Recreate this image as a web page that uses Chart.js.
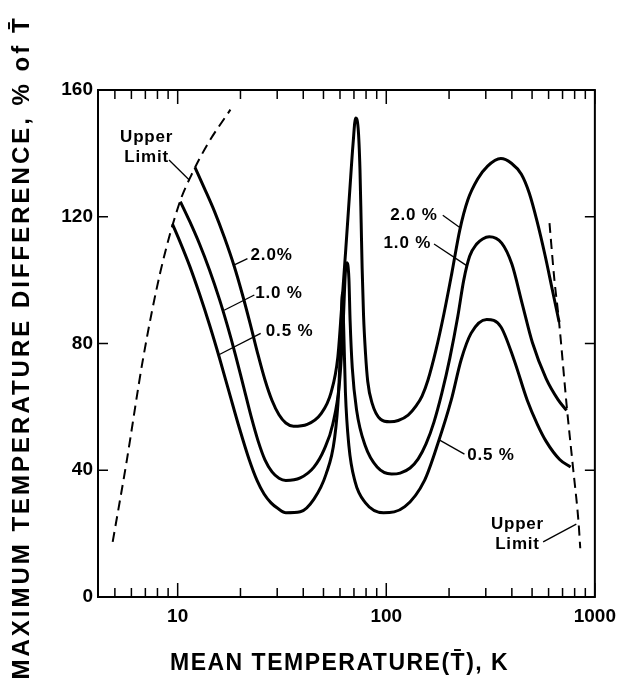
<!DOCTYPE html>
<html>
<head>
<meta charset="utf-8">
<script src="https://cdn.jsdelivr.net/npm/chart.js@4.4.1/dist/chart.umd.min.js"></script>
<style>
  html, body { margin: 0; padding: 0; background: #fff; }
</style>
</head>
<body>
<canvas id="chart" width="624" height="683"></canvas>
<script>
// 2.0 % curve
const tempHi = [12.1, 13.45, 15.01, 16.74, 18.68, 20.39, 22.27, 24.31, 26.24, 28.34, 30.6, 33.0, 35.9, 41.8, 48.6, 54.4, 58.6, 61.2, 64, 66.8, 69.3, 71.3, 73.3, 74.8, 75.8, 76.6, 77.8, 79.5, 81.5, 85.5, 93.9, 104.1, 114.1, 127.3, 139.0, 148.4, 158.5, 173.0, 188.9, 206.2, 225.1, 245.7, 274.2, 306.0, 354.0, 398.1, 444.3, 485.0, 529.5, 578.0, 624.1, 674.0];
const diffHi = [135.6, 128.9, 121.7, 113.5, 104.3, 95.7, 86.2, 76.3, 68.4, 62.0, 57.5, 54.9, 53.9, 54.5, 57.8, 64.6, 75.8, 92, 110, 128, 143, 151.2, 148, 135, 118, 104, 89, 77, 68, 61.2, 56.1, 55.3, 55.7, 57.4, 60.3, 63.4, 68.5, 77.9, 89.3, 102.2, 115.8, 125.2, 131.9, 136.0, 138.4, 136.9, 133.4, 127.4, 118.3, 107.6, 97.2, 86.8];

// 1.0 % curve
const tempMid = [10.3, 11.41, 12.73, 14.21, 15.85, 17.3, 18.89, 20.62, 22.51, 24.31, 26.24, 28.34, 30.6, 33.0, 38.7, 45.0, 50.4, 55.4, 59.7, 62.0, 63.7, 64.7, 66.2, 67.1, 68.7, 72.1, 79.3, 90.4, 106.0, 116.6, 130.1, 142.0, 155.1, 169.3, 184.8, 201.7, 220.3, 235.2, 251.2, 271.2, 289.7, 311.8, 357.6, 400.4, 448.2, 501.7, 583.2, 665.9, 731.6];
const diffMid = [124.8, 118.6, 111.4, 103.2, 94.0, 85.7, 76.6, 66.8, 56.9, 49.2, 43.2, 39.5, 37.5, 36.8, 37.6, 41.0, 46.6, 54.5, 67.9, 84.8, 102.7, 105.5, 100.5, 87.0, 72.4, 58.9, 47.7, 41.0, 38.8, 39.1, 40.7, 43.5, 48.3, 55.2, 64.4, 75.4, 88.6, 100.0, 107.6, 111.4, 113.0, 113.7, 111.7, 105.0, 92.6, 80.3, 69.0, 62.3, 58.9];

// 0.5 % curve
const tempLo = [9.44, 10.22, 11.41, 12.73, 14.21, 15.85, 17.69, 19.74, 22.03, 24.04, 25.96, 28.03, 30.27, 33.0, 38.7, 45.0, 51.4, 56.5, 59.1, 60.9, 61.6, 62.5, 63.7, 66.2, 70.8, 79.3, 97, 122.7, 152.8, 176.9, 204.8, 228.4, 254.8, 303, 354, 410, 474, 530, 583, 678, 765];
const diffLo = [117.7, 112.4, 104.5, 95.6, 85.9, 75.5, 64.4, 53.4, 43.3, 36.7, 32.5, 29.7, 27.9, 26.6, 26.9, 30.9, 38.7, 50.0, 64.6, 87.0, 96.0, 84.8, 64.6, 47.7, 36.5, 29.8, 26.6, 28.5, 36.9, 48.5, 62.1, 74.8, 83.2, 87.6, 85.3, 74.8, 62.1, 54.5, 49.2, 43.4, 41.0];

// upper limit (dashed)
const limitLowT = [4.88, 5.67, 6.85, 8.27, 10.17, 11.6, 14.0, 17.9];
const limitLowD = [17.4, 42.1, 75.8, 102.7, 124.1, 133.0, 143.2, 153.8];
const limitHighT = [606, 640, 671, 736, 785, 836, 851];
const limitHighD = [118, 100, 87.9, 59, 41.1, 23.2, 15.4];

// axes
const xTickVals = [5, 6, 7, 8, 9, 10, 20, 30, 40, 50, 60, 70, 80, 90, 100, 200, 300, 400, 500, 600, 700, 800, 900, 1000];
const xTickLabels = [10, 100, 1000];
const yTickVals = [0, 40, 80, 120, 160];

const xTitle = 'MEAN TEMPERATURE(T\u0304), K';
const yTitle = 'MAXIMUM TEMPERATURE DIFFERENCE, % of T\u0304';

// curve labels: text centre, leader line from -> to (data units)
const notes = [
  { text: ['Upper', 'Limit'], at: [7.1, 142], from: [9.09, 137.9], to: [11.4, 131.5] },
  { text: ['2.0%'], at: [28.2, 107.9], from: [21.6, 106.8], to: [18.7, 104.8] },
  { text: ['1.0 %'], at: [30.6, 95.8], from: [23.3, 95.3], to: [16.7, 90.5] },
  { text: ['0.5 %'], at: [34.4, 83.7], from: [25.0, 83.2], to: [15.6, 76.3] },
  { text: ['2.0 %'], at: [135.8, 120.5], from: [186.6, 120.5], to: [226, 116.5] },
  { text: ['1.0 %'], at: [126.2, 111.6], from: [169.4, 111.4], to: [244, 104.5] },
  { text: ['0.5 %'], at: [317.6, 44.8], from: [237, 45.1], to: [180.3, 49.5] },
  { text: ['Upper', 'Limit'], at: [425.6, 19.8], from: [565, 17.4], to: [814.7, 23] }
];

const pts = (xs, ys) => xs.map((v, i) => ({ x: v, y: ys[i] }));
const FONT = '"Liberation Sans", Arial, Helvetica, sans-serif';

function curve(xs, ys) {
  return { data: pts(xs, ys), borderColor: '#000', borderWidth: 3, pointRadius: 0,
           fill: false, cubicInterpolationMode: 'monotone' };
}
function dashed(xs, ys) {
  return { data: pts(xs, ys), borderColor: '#000', borderWidth: 2, pointRadius: 0,
           fill: false, borderDash: [10, 6], cubicInterpolationMode: 'monotone' };
}

// frame + inward ticks
const frame = {
  id: 'frame',
  afterDraw(chart) {
    const { ctx, chartArea: a, scales: { x, y } } = chart;
    ctx.save();
    ctx.strokeStyle = '#000';
    ctx.lineWidth = 2;
    ctx.strokeRect(a.left, a.top, a.right - a.left, a.bottom - a.top);
    ctx.lineWidth = 1.5;
    ctx.beginPath();
    x.ticks.forEach(t => {
      const px = x.getPixelForValue(t.value);
      const len = xTickLabels.includes(t.value) ? 14 : 9;
      ctx.moveTo(px, a.bottom); ctx.lineTo(px, a.bottom - len);
      ctx.moveTo(px, a.top); ctx.lineTo(px, a.top + len);
    });
    y.ticks.forEach(t => {
      const py = y.getPixelForValue(t.value);
      ctx.moveTo(a.left, py); ctx.lineTo(a.left + 10, py);
      ctx.moveTo(a.right, py); ctx.lineTo(a.right - 10, py);
    });
    ctx.stroke();
    ctx.restore();
  }
};

// curve labels and axis titles
const labels = {
  id: 'labels',
  afterDraw(chart) {
    const { ctx, chartArea: a, scales: { x, y } } = chart;
    ctx.save();
    ctx.fillStyle = '#000';
    ctx.strokeStyle = '#000';
    ctx.lineWidth = 1.3;
    ctx.font = 'bold 17px ' + FONT;
    ctx.letterSpacing = '0.8px';
    ctx.textAlign = 'center';
    ctx.textBaseline = 'middle';
    notes.forEach(n => {
      const cx = x.getPixelForValue(n.at[0]), cy = y.getPixelForValue(n.at[1]);
      const lh = 20;
      n.text.forEach((s, i) => {
        ctx.fillText(s, cx, cy + (i - (n.text.length - 1) / 2) * lh);
      });
      ctx.beginPath();
      ctx.moveTo(x.getPixelForValue(n.from[0]), y.getPixelForValue(n.from[1]));
      ctx.lineTo(x.getPixelForValue(n.to[0]), y.getPixelForValue(n.to[1]));
      ctx.stroke();
    });

    // x title
    ctx.font = 'bold 23px ' + FONT;
    ctx.letterSpacing = '1.5px';
    ctx.textAlign = 'left';
    ctx.textBaseline = 'alphabetic';
    ctx.fillText(xTitle, 170, 670);

    // y title
    ctx.translate(29, (a.top + a.bottom) / 2 + 4);
    ctx.rotate(-Math.PI / 2);
    ctx.font = 'bold 24px ' + FONT;
    ctx.letterSpacing = '3px';
    ctx.textAlign = 'center';
    ctx.fillText(yTitle, 0, 0);
    ctx.restore();
  }
};

new Chart(document.getElementById('chart'), {
  type: 'line',
  data: {
    datasets: [
      curve(tempHi, diffHi),
      curve(tempMid, diffMid),
      curve(tempLo, diffLo),
      dashed(limitLowT, limitLowD),
      dashed(limitHighT, limitHighD)
    ]
  },
  options: {
    responsive: false,
    animation: false,
    layout: { padding: { top: 90, right: 26, left: 0, bottom: 0 } },
    plugins: { legend: { display: false }, tooltip: { enabled: false } },
    scales: {
      x: {
        type: 'logarithmic',
        min: 4.15,
        max: 1000,
        afterBuildTicks: s => { s.ticks = xTickVals.map(v => ({ value: v })); },
        afterFit: s => { s.height = 86; },
        grid: { display: false, drawTicks: false },
        border: { display: false },
        ticks: {
          autoSkip: false, maxRotation: 0, padding: 8, color: '#000',
          font: { family: FONT, size: 19, weight: 'bold' },
          callback: v => xTickLabels.includes(v) ? String(v) : ''
        }
      },
      y: {
        type: 'linear',
        min: 0,
        max: 160,
        afterBuildTicks: s => { s.ticks = yTickVals.map(v => ({ value: v })); },
        afterFit: s => { s.width = 98; },
        grid: { display: false, drawTicks: false },
        border: { display: false },
        ticks: {
          padding: 5, color: '#000',
          font: { family: FONT, size: 19, weight: 'bold' }
        }
      }
    }
  },
  plugins: [frame, labels]
});
</script>
</body>
</html>
